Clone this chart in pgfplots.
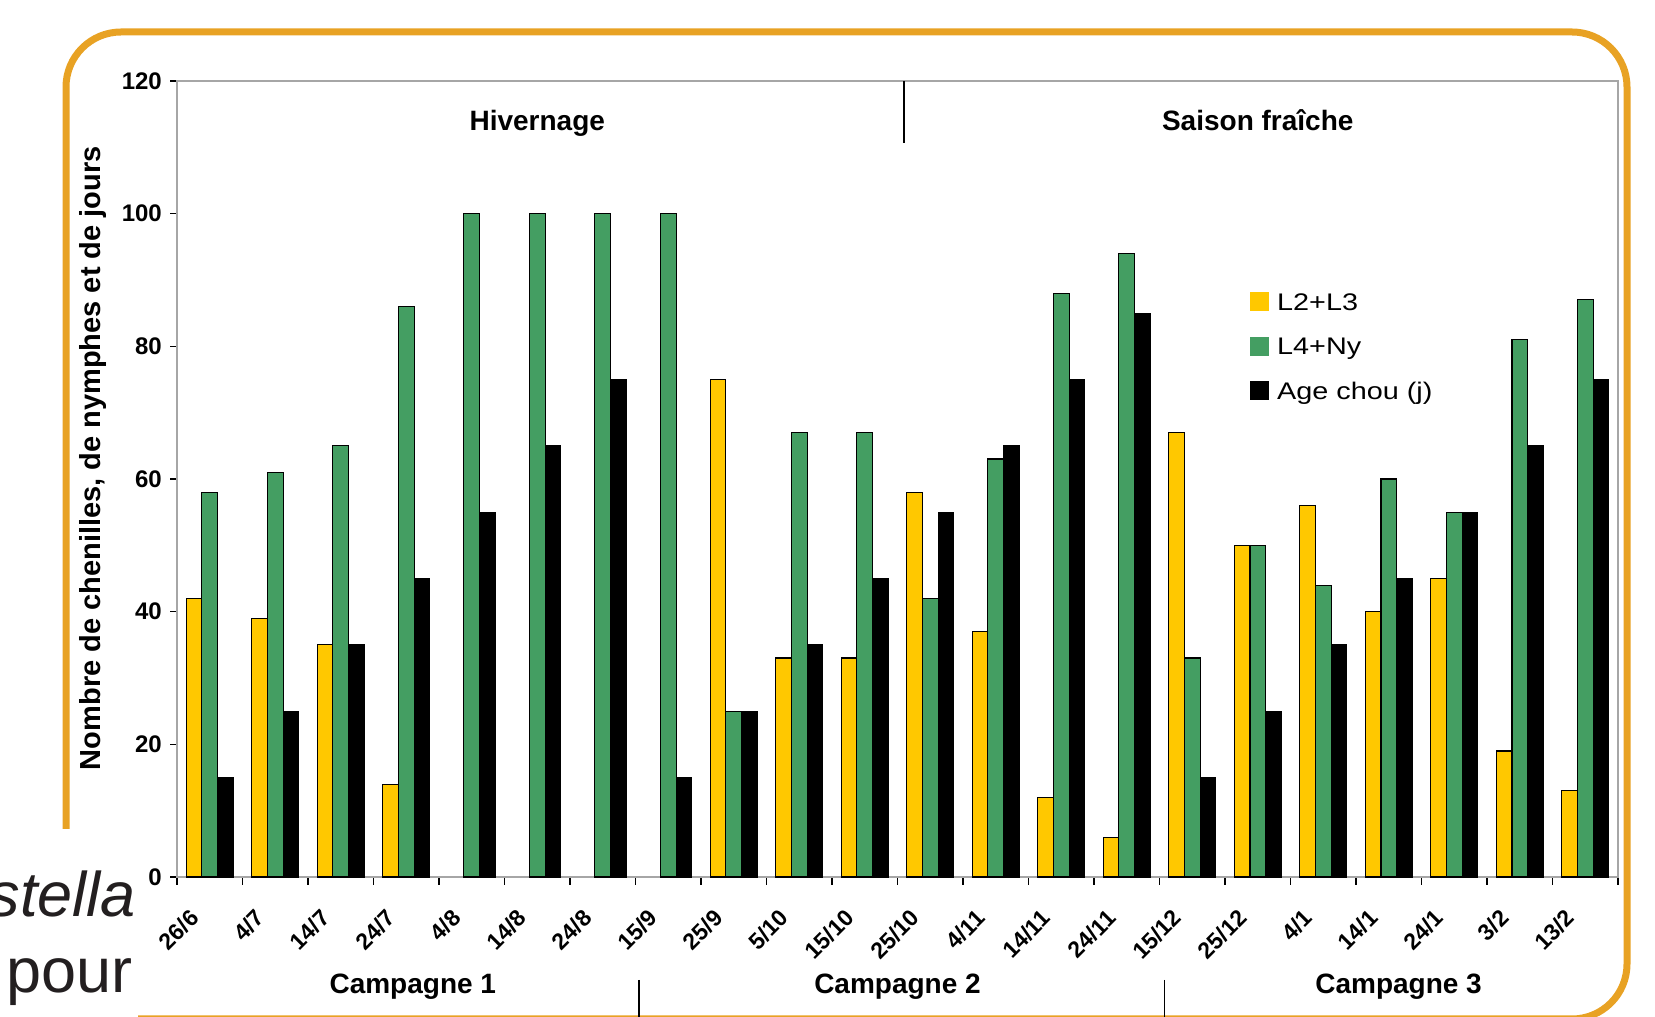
\documentclass[border=0pt]{standalone}
\usepackage{fontspec}
\setmainfont{Liberation Sans}
\newfontfamily\legfont[FakeStretch=1.2]{Liberation Sans}
\usepackage{pgfplots}
\pgfplotsset{compat=1.18}
\definecolor{cyel}{RGB}{255,200,0}
\definecolor{cgrn}{RGB}{68,158,98}
\definecolor{corange}{RGB}{232,162,36}
\definecolor{ctext}{RGB}{35,31,32}
\pgfplotsset{sqleg/.style={legend image code/.code={\fill[##1,draw=none] (0pt,-7pt) rectangle (19pt,12pt);}}}
\begin{document}
\begin{tikzpicture}[x=1pt,y=1pt]
\draw[corange, line width=7pt] (66,188) -- (66,930) arc[start angle=180,end angle=90,radius=55] -- (1572,985) arc[start angle=90,end angle=0,radius=55] -- (1627,53) arc[start angle=0,end angle=-90,radius=55] -- (138,-2);
\node[anchor=base east, inner sep=0pt, font=\itshape\fontsize{63}{63}\selectfont, text=ctext] at (136,100) {stella};
\node[anchor=base east, inner sep=0pt, font=\fontsize{63}{63}\selectfont, text=ctext] at (133,24) {pour};
\begin{axis}[
  at={(177pt,140pt)}, anchor=south west, width=1441pt, height=796pt, scale only axis,
  xmin=-0.5, xmax=21.5, ymin=0, ymax=120,
  ybar, bar width=0.24,
  clip=false,
  axis line style={draw=gray!70, line width=2.5pt},
  tick align=outside,
  xtick pos=lower, ytick pos=left,
  major tick length=7pt, minor tick length=8pt,
  ytick={0,20,...,120},
  ytick style={black, line width=1.5pt},
  xtick={0,...,21},
  major x tick style={draw=none},
  minor xtick={-0.5,0.5,...,21.5},
  minor x tick style={black, line width=1.5pt},
  xticklabels={26/6,4/7,14/7,24/7,4/8,14/8,24/8,15/9,25/9,5/10,15/10,25/10,4/11,14/11,24/11,15/12,25/12,4/1,14/1,24/1,3/2,13/2},
  xticklabel style={font=\bfseries\fontsize{23}{23}\selectfont, inner sep=0pt, xshift=-15pt, yshift=-30pt, rotate=45, anchor=east},
  yticklabel style={font=\bfseries\fontsize{24}{24}\selectfont, inner sep=0pt, anchor=east, xshift=-8pt},
  /pgf/number format/assume math mode=true,
  ylabel={Nombre de chenilles, de nymphes et de jours},
  every axis y label/.style={at={(rel axis cs:-0.0583,0.526)}, rotate=90, anchor=center, font=\bfseries\fontsize{29}{29}\selectfont},
  legend cell align=left,
  legend style={at={(rel axis cs:0.7446,0.735)}, anchor=north west, draw=none, fill=none, inner sep=0pt, row sep=20.5pt, column sep=8pt, font=\legfont\fontsize{24}{24}\selectfont, nodes={inner sep=0pt, text height=18pt, text depth=6pt}},
]
\addplot[fill=cyel, draw=black, line width=1.2pt, bar shift=-0.24, sqleg] coordinates {
(0,42) (1,39) (2,35) (3,14) (8,75) (9,33) (10,33) (11,58) (12,37) (13,12) (14,6) (15,67) (16,50) (17,56) (18,40) (19,45) (20,19) (21,13)};
\addplot[fill=cgrn, draw=black, line width=1.2pt, bar shift=0, sqleg] coordinates {
(0,58) (1,61) (2,65) (3,86) (4,100) (5,100) (6,100) (7,100) (8,25) (9,67) (10,67) (11,42) (12,63) (13,88) (14,94) (15,33) (16,50) (17,44) (18,60) (19,55) (20,81) (21,87)};
\addplot[fill=black, draw=black, line width=1.2pt, bar shift=0.24, sqleg] coordinates {
(0,15) (1,25) (2,35) (3,45) (4,55) (5,65) (6,75) (7,15) (8,25) (9,35) (10,45) (11,55) (12,65) (13,75) (14,85) (15,15) (16,25) (17,35) (18,45) (19,55) (20,65) (21,75)};
\legend{L2+L3, L4+Ny, Age chou (j)}
\node[anchor=base, font=\bfseries\fontsize{28}{28}\selectfont] at (axis cs:5,112.5) {Hivernage};
\node[anchor=base, font=\bfseries\fontsize{28}{28}\selectfont] at (axis cs:16,112.5) {Saison fraîche};
\draw[black, line width=1.5pt] (axis cs:10.6,120) -- (axis cs:10.6,110.6);
\node[anchor=base, font=\bfseries\fontsize{28}{28}\selectfont] at (axis cs:3.1,-17.6) {Campagne 1};
\node[anchor=base, font=\bfseries\fontsize{28}{28}\selectfont] at (axis cs:10.5,-17.6) {Campagne 2};
\node[anchor=base, font=\bfseries\fontsize{28}{28}\selectfont] at (axis cs:18.15,-17.6) {Campagne 3};
\draw[black, line width=1.5pt] (axis cs:6.55,-15.5) -- (axis cs:6.55,-22);
\draw[black, line width=1.5pt] (axis cs:14.58,-15.5) -- (axis cs:14.58,-22);
\end{axis}
\pgfresetboundingbox
\useasboundingbox (0,0) rectangle (1655,1017);
\end{tikzpicture}
\end{document}
